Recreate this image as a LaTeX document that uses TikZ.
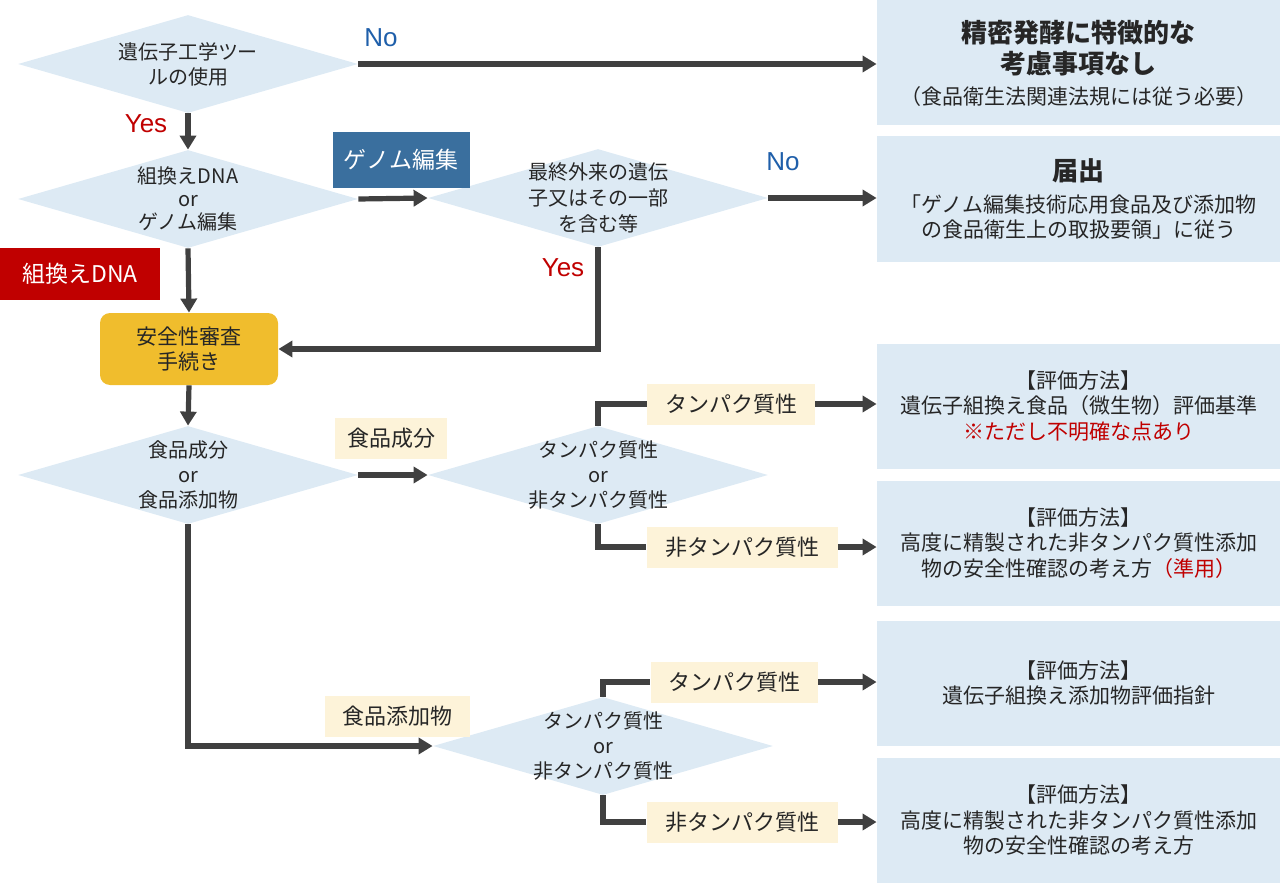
\documentclass[tikz,border=0pt]{standalone}
\usepackage{fontspec}
\setmainfont{Noto Sans CJK JP}
\newfontfamily\latinfont{Liberation Sans}
\usepackage{xcolor}
\usetikzlibrary{positioning, arrows.meta, shapes.geometric}
\definecolor{qblue}{HTML}{DDEAF4}
\definecolor{gold}{HTML}{F0BD2D}
\definecolor{cream}{HTML}{FDF3D9}
\definecolor{steel}{HTML}{3A6F9E}
\definecolor{dnared}{HTML}{C00000}
\definecolor{noblue}{HTML}{1F5FAA}
\definecolor{dgray}{HTML}{404040}
\definecolor{txt}{HTML}{262626}

\begin{document}
\begin{tikzpicture}[
  x=0.5pt, y=-0.5pt, text=txt,
  qst/.style={diamond, fill=qblue, inner sep=0pt,
              minimum width=170pt, minimum height=49pt},
  qtxt/.style={align=center, font=\fontsize{10}{12.5}\selectfont},
  res/.style={fill=qblue, minimum width=201.5pt, minimum height=62.5pt,
              inner sep=0pt, align=center,
              font=\fontsize{10.5}{12.75}\selectfont},
  lbl/.style={fill=cream, inner sep=0pt, minimum height=20.5pt,
              font=\fontsize{11}{12}\selectfont},
  tag/.style={inner sep=0pt, text=white, font=\fontsize{11.5}{12}\selectfont},
  yes/.style={text=dnared, font=\latinfont\fontsize{13}{13}\selectfont},
  no/.style={text=noblue, font=\latinfont\fontsize{13}{13}\selectfont},
  arr/.style={-{Triangle[length=7pt,width=8pt]}, line width=2.6pt, dgray},
  seg/.style={line width=2.6pt, dgray}
]
\useasboundingbox (0,0) rectangle (1280,883);
% questions
\node[qst] (d1) at (188,64) {};
\node[qtxt] (d1t) at (d1) {遺伝子工学ツー\\ルの使用};
\node[qst] (d2) at (188,199) {};
\node[qtxt, font=\fontsize{10}{11.5}\selectfont] (d2t) at (d2) {組換えDNA\\or\\ゲノム編集};
\node[qst] (d3) at (598,198) {};
\node[qtxt, font=\fontsize{10}{13}\selectfont] (d3t) at (d3) {最終外来の遺伝\\子又はその一部\\を含む等};
\node[qst] (d4) at (188,475) {};
\node[qtxt] (d4t) at (d4) {食品成分\\or\\食品添加物};
\node[qst] (d5) at (598,475) {};
\node[qtxt] (d5t) at (d5) {タンパク質性\\or\\非タンパク質性};
\node[qst] (d6) at (603,746) {};
\node[qtxt] (d6t) at (d6) {タンパク質性\\or\\非タンパク質性};
% safety review
\node[fill=gold, rounded corners=5pt, minimum width=89pt, minimum height=36pt,
      inner sep=0pt, align=center, font=\fontsize{10.5}{12.5}\selectfont]
      (sa) at (189,349) {安全性審査\\手続き};
% results
\node[res, font=\fontsize{10.5}{15.5}\selectfont] (r1) at (1078.5,63)
  {{\bfseries\fontsize{13}{15.5}\selectfont 精密発酵に特徴的な}\\
   {\bfseries\fontsize{13}{15.5}\selectfont 考慮事項なし}\\
   （食品衛生法関連法規には従う必要）};
\node[res] (r2) at (1078.5,199)
  {{\bfseries\fontsize{13}{15.5}\selectfont 届出}\\[3pt]
   「ゲノム編集技術応用食品及び添加物\\
   の食品衛生上の取扱要領」に従う};
\node[res] (r3) at (1078.5,406)
  {【評価方法】\\遺伝子組換え食品（微生物）評価基準\\
   \textcolor{dnared}{※ただし不明確な点あり}};
\node[res] (r4) at (1078.5,543)
  {【評価方法】\\高度に精製された非タンパク質性添加\\
   物の安全性確認の考え方\textcolor{dnared}{（準用）}};
\node[res] (r5) at (1078.5,683)
  {【評価方法】\\遺伝子組換え添加物評価指針};
\node[res] (r6) at (1078.5,820)
  {【評価方法】\\高度に精製された非タンパク質性添加\\
   物の安全性確認の考え方};
% branch labels
\node[tag, fill=steel, minimum width=68.5pt, minimum height=27.5pt] (gen) at (401,160) {ゲノム編集};
\node[tag, fill=dnared, minimum width=80pt, minimum height=26pt] (dna) at (80,274) {組換えDNA};
\node[lbl, minimum width=56pt] (fc) at (391,438) {食品成分};
\node[lbl, minimum width=72.5pt] (fa) at (397,716) {食品添加物};
\node[lbl, minimum width=84pt] (t1) at (731,404) {タンパク質性};
\node[lbl, minimum width=95.5pt] (n1) at (742,547) {非タンパク質性};
\node[lbl, minimum width=83.5pt] (t2) at (734,682) {タンパク質性};
\node[lbl, minimum width=95.5pt] (n2) at (742,822) {非タンパク質性};
% yes / no
\node[no] (no1) at (381,38) {No};
\node[yes] (yes1) at (146,124) {Yes};
\node[no] (no2) at (783,162) {No};
\node[yes] (yes2) at (563,268) {Yes};
% connectors
\draw[arr] (d1.east) -- (d1.east -| r1.west);
\draw[arr] (d1.south) -- (d2.north);
\draw[arr] (d2.east) -- (d3.west);
\draw[arr] (d3.east) -- (d3.east -| r2.west);
\draw[arr] (d3.south) |- (sa.east);
\draw[arr] (d2.south) -- (sa.north);
\draw[arr] (sa.south) -- (d4.north);
\draw[arr] (d4.east) -- (d5.west);
\draw[seg] (d5.north) |- (t1.west);
\draw[arr] (t1.east) -- (t1.east -| r3.west);
\draw[seg] (d5.south) |- (n1.west);
\draw[arr] (n1.east) -- (n1.east -| r4.west);
\draw[arr] (d4.south) |- (d6.west);
\draw[seg] (d6.north) |- (t2.west);
\draw[arr] (t2.east) -- (t2.east -| r5.west);
\draw[seg] (d6.south) |- (n2.west);
\draw[arr] (n2.east) -- (n2.east -| r6.west);
\end{tikzpicture}
\end{document}
